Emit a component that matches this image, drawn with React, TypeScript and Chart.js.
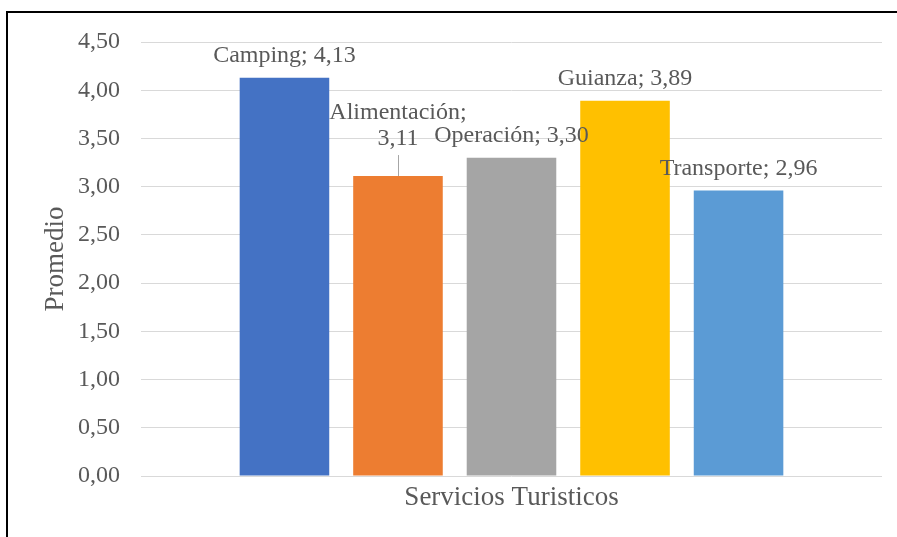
import React, { useEffect, useRef } from "react";
import { Chart, registerables } from "chart.js";

Chart.register(...registerables);

const categories = ["Servicios Turisticos"];
const seriesNames = ["Camping", "Alimentación", "Operación", "Guianza", "Transporte"];
const seriesValues = [4.13, 3.11, 3.3, 3.89, 2.96];
const seriesColors = ["#4472C4", "#ED7D31", "#A5A5A5", "#FFC000", "#5B9BD5"];
const yTicks = [0, 0.5, 1, 1.5, 2, 2.5, 3, 3.5, 4, 4.5];

const FONT = '"Liberation Serif", "Times New Roman", serif';
const TEXT = "#595959";

const fmt = (v: number) => v.toFixed(2).replace(".", ",");

// Datasets whose label is wrapped over two lines with a leader line
const wrapped: Record<string, boolean> = { "Alimentación": true };

const dataLabelPlugin = {
  id: "dataLabels",
  afterDatasetsDraw(chart: any) {
    const ctx = chart.ctx;
    ctx.save();
    ctx.font = `24px ${FONT}`;
    ctx.fillStyle = TEXT;
    ctx.textAlign = "center";
    ctx.textBaseline = "alphabetic";
    chart.data.datasets.forEach((ds: any, i: number) => {
      const meta = chart.getDatasetMeta(i);
      const el = meta.data[0];
      if (!el) return;
      const x = el.x;
      const y = el.y;
      const name = ds.label;
      const val = fmt(ds.data[0]);
      if (wrapped[name]) {
        ctx.fillText(`${name};`, x, y - 57);
        ctx.fillText(val, x, y - 31);
        ctx.strokeStyle = "#A6A6A6";
        ctx.lineWidth = 1;
        ctx.beginPath();
        ctx.moveTo(Math.round(x) + 0.5, y - 21);
        ctx.lineTo(Math.round(x) + 0.5, y);
        ctx.stroke();
      } else {
        ctx.fillText(`${name}; ${val}`, x, y - 16);
      }
    });
    ctx.restore();
  },
};

export default function App() {
  const ref = useRef<HTMLCanvasElement | null>(null);

  useEffect(() => {
    if (!ref.current) return;
    const chart = new Chart(ref.current, {
      type: "bar",
      data: {
        labels: categories,
        datasets: seriesNames.map((n, i) => ({
          label: n,
          data: [seriesValues[i]],
          backgroundColor: seriesColors[i],
          borderWidth: 0,
          categoryPercentage: 0.766,
          barPercentage: 0.789,
        })),
      },
      options: {
        animation: false,
        responsive: true,
        maintainAspectRatio: false,
        layout: { padding: { top: 42, right: 15, left: 0, bottom: 0 } },
        plugins: {
          legend: { display: false },
          tooltip: { enabled: false },
        },
        scales: {
          x: {
            grid: { display: false, drawTicks: false },
            border: { display: false },
            ticks: {
              color: TEXT,
              font: { family: FONT, size: 27 },
              padding: 6,
            },
            afterFit: (s: any) => {
              s.height = 61;
            },
          },
          y: {
            min: 0,
            max: 4.5,
            afterBuildTicks: (s: any) => {
              s.ticks = yTicks.map((v) => ({ value: v }));
            },
            grid: { color: "#D9D9D9", lineWidth: 1, drawTicks: false },
            border: { display: false },
            ticks: {
              color: TEXT,
              font: { family: FONT, size: 24 },
              padding: 21,
              callback: (v: any) => fmt(Number(v)),
            },
            title: {
              display: true,
              text: "Promedio",
              color: TEXT,
              font: { family: FONT, size: 27 },
              padding: { top: 40, bottom: 0 },
            },
            afterFit: (s: any) => {
              s.width = 141;
            },
          },
        },
      },
      plugins: [dataLabelPlugin],
    });
    return () => chart.destroy();
  }, []);

  return (
    <div style={{ position: "absolute", left: 0, top: 0, width: 897, height: 537, overflow: "hidden", background: "#fff" }}>
      <canvas ref={ref} />
      <div
        style={{
          position: "absolute",
          left: 6,
          top: 11,
          width: 900,
          height: 540,
          borderLeft: "2px solid #000",
          borderTop: "2px solid #000",
          pointerEvents: "none",
        }}
      />
    </div>
  );
}
